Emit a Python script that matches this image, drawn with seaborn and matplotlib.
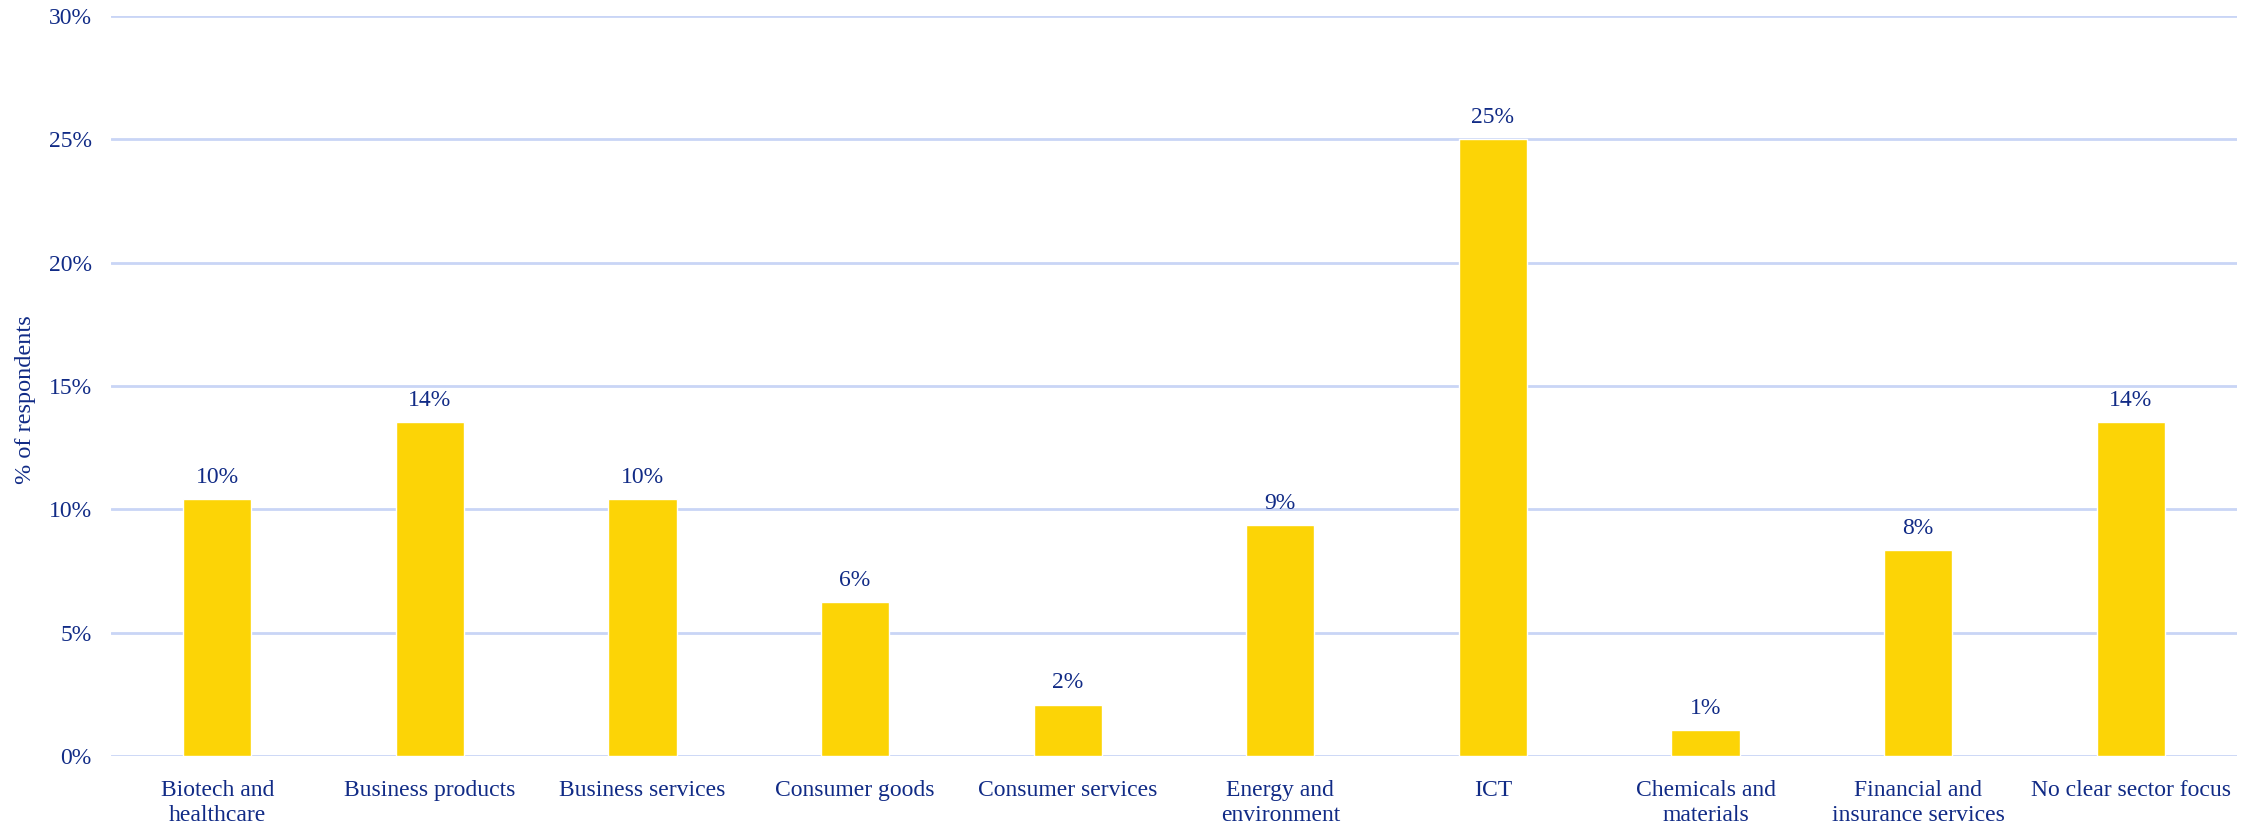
import matplotlib
matplotlib.use("Agg")
import matplotlib.pyplot as plt
import seaborn as sns
import pandas as pd
from matplotlib.ticker import PercentFormatter

# Share of respondents by sector (counts out of 96 respondents)
categories = [
    "Biotech and\nhealthcare", "Business products", "Business services",
    "Consumer goods", "Consumer services", "Energy and\nenvironment", "ICT",
    "Chemicals and\nmaterials", "Financial and\ninsurance services",
    "No clear sector focus",
]
counts = [10, 13, 10, 6, 2, 9, 24, 1, 8, 13]
total_respondents = 96
shares = [c / total_respondents for c in counts]
y_ticks = [0, 0.05, 0.10, 0.15, 0.20, 0.25, 0.30]

navy = "#112B86"
bar_color = "#FCD406"
grid_color = "#C9D5F6"
fs = 17

sns.set_theme(style="white")
plt.rcParams["font.family"] = ["Liberation Serif", "DejaVu Serif"]

df = pd.DataFrame({"sector": categories, "share": shares})

fig = plt.figure(figsize=(22.59, 8.25), dpi=100)
ax = fig.add_axes([111 / 2259, 1 - 756 / 825, (2237 - 111) / 2259, (756 - 16) / 825])

sns.barplot(data=df, x="sector", y="share", color=bar_color, width=0.32,
            saturation=1, ax=ax, zorder=3)

ax.set_ylim(0, 0.30)
ax.set_xlim(-0.5, len(categories) - 0.5)
ax.set_yticks(y_ticks)
ax.yaxis.set_major_formatter(PercentFormatter(1.0, decimals=0))
ax.grid(axis="y", color=grid_color, linewidth=2, zorder=0)
ax.set_axisbelow(True)
for s in ax.spines.values():
    s.set_visible(False)

ax.tick_params(axis="both", length=0, labelsize=fs, colors=navy)
ax.tick_params(axis="y", pad=14)
ax.tick_params(axis="x", pad=17)
for lbl in ax.get_xticklabels():
    lbl.set_linespacing(1.3)
ax.set_xlabel("")
ax.set_ylabel("% of respondents", fontsize=17.5, color=navy, va="center")
ax.yaxis.set_label_coords(-0.040, 0.482)

for container in ax.containers:
    ax.bar_label(container, labels=[f"{v * 100:.0f}%" for v in shares],
                 padding=8, fontsize=fs, color=navy)

fig.savefig("out.png", dpi=100, facecolor="white")
